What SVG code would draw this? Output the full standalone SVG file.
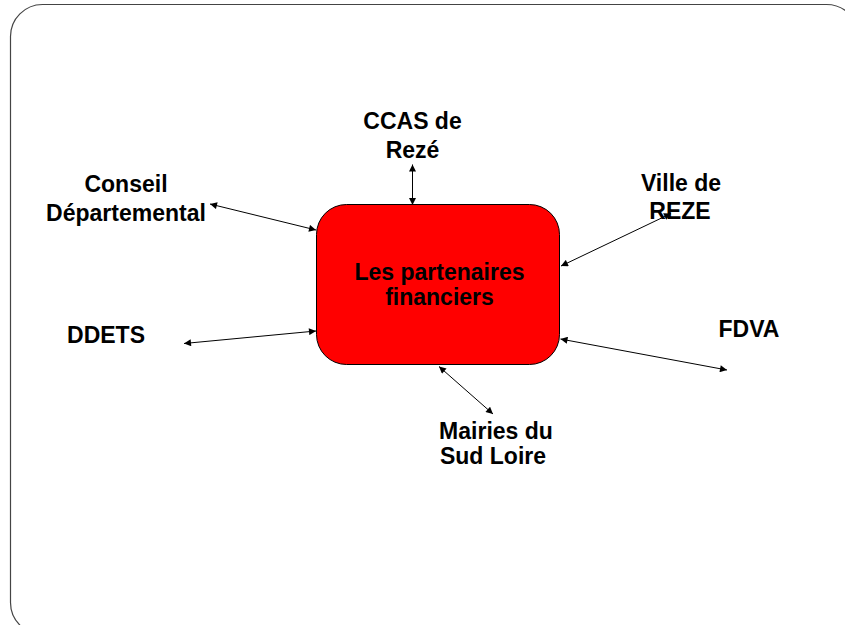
<svg xmlns="http://www.w3.org/2000/svg" width="845" height="625" viewBox="0 0 845 625">
<defs>
<style>
.lbl{font-family:"Liberation Sans",Arial,sans-serif;font-weight:bold;font-size:23px;fill:#000;text-anchor:middle}
.conn{stroke:#000;stroke-width:1;fill:none;marker-start:url(#ah);marker-end:url(#ah)}
</style>
<marker id="ah" viewBox="0 0 10 10" refX="10" refY="5" markerWidth="8" markerHeight="7" markerUnits="userSpaceOnUse" orient="auto-start-reverse">
<path d="M0,0 L10,5 L0,10 z" fill="#000"/>
</marker>
</defs>
<rect width="845" height="625" fill="#fff"/>
<rect x="10.5" y="4.5" width="848" height="630" rx="32" ry="32" fill="none" stroke="#444" stroke-width="1.2"/>
<g id="connectors">
<line class="conn" x1="412.5" y1="164.5" x2="412.5" y2="205"/>
<line class="conn" x1="210" y1="204" x2="316" y2="230"/>
<line class="conn" x1="184" y1="343.5" x2="316" y2="331"/>
<line class="conn" x1="671" y1="213.5" x2="561" y2="266"/>
<line class="conn" x1="560.5" y1="339" x2="727" y2="370"/>
<line class="conn" x1="439" y1="366.5" x2="493" y2="414"/>
</g>
<g id="center">
<rect x="316.5" y="204.5" width="243" height="160" rx="30" ry="30" fill="#ff0000" stroke="#000" stroke-width="1"/>
<text class="lbl" x="439.5" y="280" font-size="19.5">Les partenaires</text>
<text class="lbl" x="439.5" y="305" font-size="19.5">financiers</text>
</g>
<g id="ccas">
<text class="lbl" x="412.5" y="128.5" font-size="23.5">CCAS de</text>
<text class="lbl" x="412.5" y="158" font-size="23.5">Rezé</text>
</g>
<g id="conseil">
<text class="lbl" x="126" y="191.5">Conseil</text>
<text class="lbl" x="126" y="220.5">Départemental</text>
</g>
<g id="ddets">
<text class="lbl" x="106" y="343">DDETS</text>
</g>
<g id="ville">
<text class="lbl" x="681" y="190.5" font-size="22">Ville de</text>
<text class="lbl" x="680" y="219" font-size="22">REZE</text>
</g>
<g id="fdva">
<text class="lbl" x="749" y="336.5">FDVA</text>
</g>
<g id="mairies">
<text class="lbl" x="496" y="439" font-size="21.5">Mairies du</text>
<text class="lbl" x="493" y="463.5" font-size="21.5">Sud Loire</text>
</g>
</svg>
